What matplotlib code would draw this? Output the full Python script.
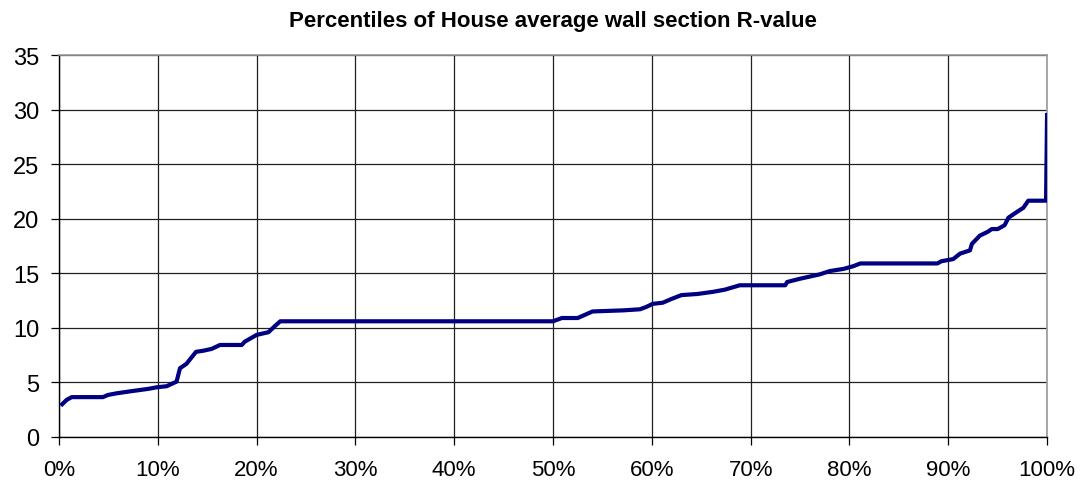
import matplotlib.pyplot as plt
from matplotlib.ticker import MultipleLocator, FuncFormatter

plt.rcParams['font.family'] = ['Liberation Sans', 'DejaVu Sans']

# percentile (%) and R-value
pct = [0.33, 0.78, 1.29, 4.45, 4.96, 5.84, 7.36, 9.0, 9.89, 10.9, 11.9,
       12.25, 12.9, 13.87, 14.6, 15.45, 16.3, 18.5, 18.8, 20.0, 21.2, 21.9,
       22.4, 50.0, 50.9, 52.5, 54.0, 57.1, 58.8, 59.4, 60.1, 61.1, 62.0,
       63.0, 64.6, 66.2, 67.4, 68.9, 73.5, 73.7, 75.0, 77.0, 78.0, 79.4,
       80.4, 81.1, 88.9, 89.3, 90.5, 91.2, 92.2, 92.4, 93.2, 94.0, 94.4,
       95.0, 95.7, 96.1, 97.0, 97.6, 98.1, 99.9, 100.0]
rvalue = [3.0, 3.4, 3.65, 3.65, 3.85, 4.0, 4.2, 4.4, 4.55, 4.65, 5.07,
          6.3, 6.7, 7.8, 7.9, 8.07, 8.43, 8.43, 8.73, 9.35, 9.6, 10.2,
          10.6, 10.6, 10.9, 10.9, 11.5, 11.6, 11.7, 11.9, 12.2, 12.3, 12.65,
          13.0, 13.1, 13.3, 13.5, 13.9, 13.9, 14.2, 14.5, 14.9, 15.2, 15.4,
          15.65, 15.9, 15.9, 16.1, 16.3, 16.8, 17.1, 17.7, 18.45, 18.8, 19.05,
          19.05, 19.4, 20.1, 20.65, 21.0, 21.65, 21.65, 29.5]

fig = plt.figure(figsize=(10.82, 4.85), dpi=100)
ax = fig.add_axes([0.0545, 0.097, 0.9132, 0.7875])

ax.plot(pct, rvalue, color='#000080', lw=3.0, solid_joinstyle='round', zorder=3)

ax.set_xlim(0, 100)
ax.set_ylim(0, 35)
ax.xaxis.set_major_locator(MultipleLocator(10))
ax.yaxis.set_major_locator(MultipleLocator(5))
ax.xaxis.set_major_formatter(FuncFormatter(lambda v, p: f'{v:.0f}%'))
ax.grid(True, color='#202020', lw=0.9)
ax.tick_params(direction='out', length=6, width=0.9, labelsize=16)
ax.tick_params(axis='x', pad=10)
ax.tick_params(axis='y', pad=8, labelsize=17)

for s in ['left', 'bottom']:
    ax.spines[s].set_color('black')
    ax.spines[s].set_linewidth(1.0)
for s in ['top', 'right']:
    ax.spines[s].set_color('#999999')
    ax.spines[s].set_linewidth(1.2)

fig.text(0.511, 0.955, 'Percentiles of House average wall section R-value',
         ha='center', va='center', fontsize=16, fontweight='bold')

fig.savefig('out.png', dpi=100)
